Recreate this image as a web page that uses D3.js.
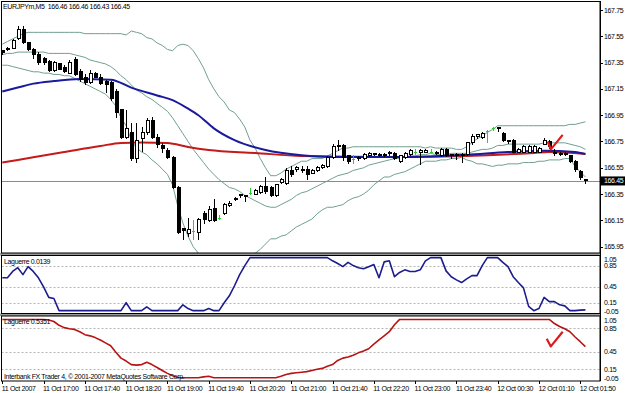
<!DOCTYPE html>
<html>
<head>
<meta charset="utf-8">
<script src="https://cdn.jsdelivr.net/npm/d3@7"></script>
<style>
body { margin: 0; background: #fff; }
svg text { font-family: 'Liberation Sans', Arial, sans-serif; font-size: 7px; letter-spacing: -0.35px; fill: #000; white-space: pre; }
</style>
</head>
<body>
<script>
'use strict';

// EURJPYm M5, 114 bars
var symbolTitle = 'EURJPYm,M5  166.46 166.46 166.43 166.45';
var lastPrice = 166.45;

var opens = [
    167.44, 167.45, 167.46, 167.53, 167.60, 167.50, 167.45, 167.41, 167.38, 167.36,
    167.29, 167.34, 167.31, 167.27, 167.37, 167.28, 167.24, 167.20, 167.27, 167.24,
    167.21, 167.20, 167.13, 166.99, 166.78, 166.82, 166.62, 166.77, 166.82, 166.91,
    166.78, 166.72, 166.68, 166.63, 166.40, 166.09, 166.05, 166.07, 166.06, 166.20,
    166.15, 166.24, 166.17, 166.20, 166.26, 166.31, 166.34, 166.33, 166.36, 166.35,
    166.36, 166.41, 166.40, 166.34, 166.44, 166.43, 166.53, 166.54, 166.53, 166.54,
    166.51, 166.53, 166.55, 166.56, 166.63, 166.71, 166.72, 166.64, 166.62, 166.62,
    166.62, 166.64, 166.65, 166.65, 166.64, 166.66, 166.66, 166.60, 166.63, 166.65,
    166.67, 166.67, 166.67, 166.67, 166.66, 166.64, 166.69, 166.64, 166.64, 166.64,
    166.65, 166.74, 166.79, 166.78, 166.83, 166.85, 166.85, 166.81, 166.76, 166.76,
    166.67, 166.67, 166.67, 166.67, 166.67, 166.73, 166.75, 166.67, 166.65, 166.65,
    166.64, 166.60, 166.52, 166.46
];
var highs = [
    167.44, 167.47, 167.53, 167.63, 167.63, 167.51, 167.46, 167.43, 167.39, 167.37,
    167.36, 167.35, 167.33, 167.37, 167.39, 167.30, 167.26, 167.29, 167.28, 167.26,
    167.22, 167.21, 167.15, 167.00, 166.99, 166.89, 166.89, 166.86, 166.93, 166.94,
    166.81, 166.74, 166.70, 166.64, 166.41, 166.09, 166.17, 166.15, 166.17, 166.22,
    166.26, 166.31, 166.19, 166.28, 166.30, 166.33, 166.35, 166.34, 166.40, 166.39,
    166.42, 166.48, 166.41, 166.43, 166.47, 166.55, 166.56, 166.56, 166.56, 166.56,
    166.54, 166.56, 166.58, 166.64, 166.73, 166.76, 166.73, 166.65, 166.65, 166.64,
    166.66, 166.67, 166.66, 166.66, 166.66, 166.68, 166.67, 166.65, 166.67, 166.69,
    166.69, 166.69, 166.69, 166.69, 166.68, 166.70, 166.70, 166.65, 166.66, 166.66,
    166.75, 166.81, 166.81, 166.82, 166.84, 166.86, 166.86, 166.82, 166.76, 166.77,
    166.70, 166.72, 166.72, 166.72, 166.71, 166.78, 166.76, 166.69, 166.67, 166.67,
    166.65, 166.61, 166.53, 166.46
];
var lows = [
    167.41, 167.44, 167.45, 167.52, 167.49, 167.44, 167.38, 167.33, 167.33, 167.28,
    167.28, 167.29, 167.27, 167.26, 167.25, 167.20, 167.18, 167.19, 167.23, 167.18,
    167.12, 167.06, 166.93, 166.77, 166.77, 166.60, 166.59, 166.67, 166.80, 166.77,
    166.70, 166.66, 166.62, 166.39, 166.05, 166.00, 166.02, 166.00, 166.00, 166.12,
    166.14, 166.14, 166.15, 166.19, 166.25, 166.30, 166.32, 166.29, 166.34, 166.34,
    166.35, 166.35, 166.33, 166.33, 166.43, 166.42, 166.48, 166.52, 166.51, 166.46,
    166.50, 166.52, 166.54, 166.55, 166.62, 166.68, 166.60, 166.58, 166.58, 166.60,
    166.61, 166.63, 166.64, 166.63, 166.63, 166.64, 166.61, 166.59, 166.62, 166.64,
    166.65, 166.57, 166.66, 166.66, 166.65, 166.63, 166.63, 166.62, 166.61, 166.59,
    166.64, 166.72, 166.77, 166.77, 166.74, 166.83, 166.82, 166.75, 166.73, 166.66,
    166.66, 166.66, 166.66, 166.66, 166.66, 166.72, 166.69, 166.64, 166.64, 166.64,
    166.59, 166.52, 166.46, 166.43
];
var closes = [
    167.43, 167.46, 167.52, 167.60, 167.50, 167.45, 167.41, 167.35, 167.35, 167.29,
    167.35, 167.30, 167.28, 167.35, 167.26, 167.22, 167.20, 167.27, 167.24, 167.19,
    167.18, 167.08, 166.97, 166.78, 166.85, 166.62, 166.76, 166.82, 166.91, 166.78,
    166.73, 166.70, 166.63, 166.40, 166.06, 166.07, 166.08, 166.07, 166.16, 166.16,
    166.23, 166.15, 166.17, 166.27, 166.28, 166.32, 166.35, 166.34, 166.36, 166.38,
    166.41, 166.37, 166.34, 166.42, 166.46, 166.53, 166.50, 166.55, 166.54, 166.50,
    166.53, 166.55, 166.57, 166.63, 166.71, 166.72, 166.63, 166.60, 166.62, 166.63,
    166.65, 166.66, 166.66, 166.64, 166.65, 166.67, 166.62, 166.64, 166.66, 166.68,
    166.67, 166.68, 166.68, 166.67, 166.67, 166.69, 166.64, 166.65, 166.65, 166.65,
    166.74, 166.79, 166.80, 166.81, 166.83, 166.85, 166.86, 166.76, 166.75, 166.67,
    166.69, 166.71, 166.71, 166.71, 166.70, 166.76, 166.71, 166.66, 166.66, 166.66,
    166.60, 166.54, 166.48, 166.45
];

// Bollinger bands (20, 2)
var bbUpper = [
    167.49, 167.51, 167.53, 167.55, 167.57, 167.58, 167.58, 167.58, 167.58, 167.58,
    167.58, 167.58, 167.58, 167.58, 167.58, 167.58, 167.57, 167.57, 167.57, 167.57,
    167.57, 167.57, 167.57, 167.57, 167.56, 167.59, 167.58, 167.57, 167.54, 167.53,
    167.50, 167.48, 167.45, 167.44, 167.48, 167.49, 167.48, 167.44, 167.38, 167.31,
    167.22, 167.15, 167.09, 167.05, 166.99, 166.97, 166.92, 166.86, 166.76, 166.70,
    166.62, 166.55, 166.49, 166.49, 166.51, 166.54, 166.56, 166.58, 166.60, 166.60,
    166.62, 166.62, 166.62, 166.64, 166.66, 166.68, 166.70, 166.70, 166.71, 166.71,
    166.71, 166.71, 166.71, 166.71, 166.71, 166.71, 166.71, 166.71, 166.71, 166.71,
    166.71, 166.71, 166.70, 166.71, 166.70, 166.70, 166.70, 166.70, 166.69, 166.69,
    166.71, 166.74, 166.77, 166.79, 166.82, 166.84, 166.87, 166.87, 166.87, 166.87,
    166.87, 166.87, 166.87, 166.87, 166.87, 166.87, 166.87, 166.87, 166.87, 166.87,
    166.88, 166.88, 166.89, 166.90
];
var bbMiddle = [
    167.41, 167.42, 167.42, 167.43, 167.43, 167.43, 167.43, 167.43, 167.43, 167.42,
    167.42, 167.42, 167.42, 167.42, 167.41, 167.40, 167.39, 167.37, 167.36, 167.35,
    167.34, 167.32, 167.29, 167.25, 167.22, 167.18, 167.14, 167.12, 167.09, 167.07,
    167.04, 167.01, 166.98, 166.93, 166.87, 166.81, 166.75, 166.69, 166.64, 166.59,
    166.54, 166.50, 166.46, 166.43, 166.40, 166.39, 166.37, 166.34, 166.32, 166.30,
    166.28, 166.26, 166.25, 166.25, 166.27, 166.29, 166.31, 166.34, 166.36, 166.37,
    166.39, 166.41, 166.43, 166.45, 166.47, 166.49, 166.50, 166.51, 166.53, 166.54,
    166.55, 166.57, 166.58, 166.59, 166.60, 166.61, 166.62, 166.62, 166.63, 166.64,
    166.64, 166.65, 166.65, 166.66, 166.65, 166.65, 166.65, 166.66, 166.66, 166.66,
    166.66, 166.67, 166.68, 166.69, 166.69, 166.70, 166.72, 166.72, 166.73, 166.73,
    166.73, 166.73, 166.73, 166.73, 166.73, 166.74, 166.74, 166.74, 166.74, 166.74,
    166.73, 166.72, 166.71, 166.69
];
var bbLower = [
    167.33, 167.33, 167.32, 167.31, 167.30, 167.29, 167.28, 167.28, 167.27, 167.27,
    167.26, 167.26, 167.25, 167.25, 167.23, 167.21, 167.19, 167.17, 167.15, 167.13,
    167.11, 167.07, 167.02, 166.93, 166.87, 166.76, 166.70, 166.67, 166.65, 166.61,
    166.58, 166.54, 166.50, 166.42, 166.26, 166.13, 166.03, 165.95, 165.90, 165.87,
    165.86, 165.84, 165.82, 165.81, 165.81, 165.80, 165.81, 165.83, 165.87, 165.90,
    165.93, 165.97, 166.01, 166.01, 166.03, 166.04, 166.07, 166.10, 166.12, 166.14,
    166.16, 166.20, 166.23, 166.25, 166.25, 166.26, 166.27, 166.30, 166.32, 166.33,
    166.35, 166.38, 166.42, 166.45, 166.48, 166.48, 166.50, 166.51, 166.52, 166.54,
    166.56, 166.58, 166.60, 166.60, 166.60, 166.61, 166.61, 166.62, 166.62, 166.63,
    166.61, 166.60, 166.58, 166.58, 166.57, 166.56, 166.57, 166.57, 166.58, 166.58,
    166.58, 166.59, 166.59, 166.59, 166.60, 166.60, 166.61, 166.61, 166.61, 166.62,
    166.62, 166.56, 166.52, 166.48
];

// moving averages, [bar, price]
var maBlue = [[0, 167.13], [3, 167.16], [6, 167.19], [10, 167.21], [15, 167.225], [21, 167.22],
    [25, 167.16], [30, 167.10], [33, 167.065], [36, 167.00], [38, 166.95], [41, 166.85],
    [45, 166.76], [51, 166.685], [58, 166.645], [64, 166.632], [78, 166.632], [90, 166.65],
    [98, 166.67], [105, 166.68], [111, 166.67], [113, 166.655]];
var maRed = [[0, 166.59], [6, 166.63], [12, 166.67], [19, 166.716], [23, 166.739], [27, 166.742],
    [32, 166.739], [36, 166.708], [40, 166.685], [49, 166.663], [58, 166.64], [77, 166.632],
    [90, 166.64], [103, 166.663], [106, 166.67], [113, 166.655]];

// Laguerre RSI, one value per bar
var laguerreFast = [
    0.62, 0.62, 0.74, 0.81, 0.68, 0.83, 0.74, 0.62, 0.45, 0.25,
    0.23, 0, 0, 0, 0, 0, 0, 0, 0, 0,
    0, 0, 0, 0, 0.15, 0, 0, 0, 0.07, 0,
    0, 0, 0, 0, 0, 0.11, 0.04, 0, 0, 0,
    0.04, 0, 0, 0.15, 0.28, 0.47, 0.68, 0.85, 1, 1,
    1, 1, 1, 1, 1, 1, 1, 1, 1, 1,
    1, 1, 1, 1, 0.94, 0.89, 0.83, 0.91, 0.85, 0.81,
    0.79, 0.83, 0.87, 0.62, 0.92, 0.94, 0.64, 0.72, 0.77, 0.74,
    0.74, 0.77, 0.94, 1, 1, 1, 0.75, 0.64, 0.58, 0.53,
    0.60, 0.66, 0.66, 0.85, 1, 1, 1, 0.91, 0.83, 0.64,
    0.53, 0.43, 0.08, 0, 0.04, 0.25, 0.17, 0.17, 0.11, 0.09,
    0, 0, 0.01, 0.0139
];
var laguerreSlow = [
    1, 1, 1, 1, 1, 1, 1, 1, 1, 0.99,
    0.965, 0.90, 0.86, 0.84, 0.83, 0.79, 0.74, 0.72, 0.69, 0.65,
    0.60, 0.55, 0.44, 0.34, 0.29, 0.23, 0.22, 0.23, 0.27, 0.23,
    0.18, 0.13, 0.08, 0.04, 0.01, 0.005, 0.005, 0.005, 0.005, 0.02,
    0.03, 0.005, 0.005, 0.005, 0.005, 0.005, 0.005, 0.005, 0.005, 0.005,
    0.005, 0.005, 0.005, 0.005, 0.03, 0.06, 0.08, 0.09, 0.10, 0.11,
    0.13, 0.15, 0.165, 0.20, 0.23, 0.30, 0.34, 0.36, 0.39, 0.43,
    0.46, 0.50, 0.58, 0.65, 0.72, 0.79, 0.91, 1, 1, 1,
    1, 1, 1, 1, 1, 1, 1, 1, 1, 1,
    1, 1, 1, 1, 1, 1, 1, 1, 1, 1,
    1, 1, 1, 1, 1, 1, 1, 0.93, 0.88, 0.84,
    0.79, 0.70, 0.62, 0.5351
];

var priceTicks = [167.75, 167.55, 167.35, 167.15, 166.95, 166.75, 166.55, 166.35, 166.15, 165.95];
var levelTicks = [1.05, 0.85, 0.45, 0.15, -0.05];
var levelLines = [0.85, 0.45, 0.15];
var timeLabels = ['11 Oct 2007', '11 Oct 17:00', '11 Oct 17:40', '11 Oct 18:20', '11 Oct 19:00',
    '11 Oct 19:40', '11 Oct 20:20', '11 Oct 21:00', '11 Oct 21:40', '11 Oct 22:20',
    '11 Oct 23:00', '11 Oct 23:40', '12 Oct 00:30', '12 Oct 01:10', '12 Oct 01:50'];
var barsPerLabel = 8;

// hand drawn ticks, [bar, value]
var checkMain = [[105.7, 166.75], [106.3, 166.69], [108.6, 166.80]];
var checkSlow = [[105.5, 0.67], [106.3, 0.54], [108.6, 0.79]];

var width = 625;
var height = 393;
var axisX = 600;
var panes = {
    main: { top: 1.5, bottom: 253 },
    fast: { top: 255.5, bottom: 313.5 },
    slow: { top: 316, bottom: 381 }
};

var svg = d3.select('body').append('svg')
    .attr('width', width)
    .attr('height', height);

svg.append('rect').attr('width', width).attr('height', height).attr('fill', '#fff');

var x = d3.scaleLinear().domain([0, closes.length - 1]).range([2.3, 585.4]);
var y = d3.scaleLinear().domain([165.95, 167.75]).range([246.7, 10]);
var yFast = d3.scaleLinear().domain([-0.05, 1.05]).range([313.3, 255]);
var ySlow = d3.scaleLinear().domain([-0.05, 1.05]).range([381, 316.5]);

var defs = svg.append('defs');
Object.keys(panes).forEach(function (k) {
    defs.append('clipPath').attr('id', 'clip-' + k)
        .append('rect')
        .attr('x', 1.5).attr('y', panes[k].top)
        .attr('width', axisX - 1.5).attr('height', panes[k].bottom - panes[k].top);
});

// pane separators
svg.append('rect').attr('x', 0).attr('y', panes.main.bottom).attr('width', axisX + 1)
    .attr('height', panes.fast.top - panes.main.bottom).attr('fill', '#9a9a9a');
svg.append('rect').attr('x', 0).attr('y', panes.fast.bottom).attr('width', axisX + 1)
    .attr('height', panes.slow.top - panes.fast.bottom).attr('fill', '#9a9a9a');

var main = svg.append('g').attr('clip-path', 'url(#clip-main)');

// bid line
main.append('line')
    .attr('x1', 1.5).attr('x2', axisX)
    .attr('y1', Math.round(y(lastPrice)) + 0.5).attr('y2', Math.round(y(lastPrice)) + 0.5)
    .attr('stroke', '#8c8c8c');

var band = d3.line()
    .x(function (d, i) { return x(i); })
    .y(function (d) { return y(d); });

[bbUpper, bbMiddle, bbLower].forEach(function (s) {
    main.append('path')
        .attr('d', band(s))
        .attr('fill', 'none')
        .attr('stroke', '#6f9f92')
        .attr('stroke-width', 1);
});

var maLine = d3.line()
    .curve(d3.curveMonotoneX)
    .x(function (d) { return x(d[0]); })
    .y(function (d) { return y(d[1]); });

main.append('path').attr('d', maLine(maRed))
    .attr('fill', 'none').attr('stroke', '#c41a1a').attr('stroke-width', 2);
main.append('path').attr('d', maLine(maBlue))
    .attr('fill', 'none').attr('stroke', '#1a1a9c').attr('stroke-width', 2);

// candles
var bars = d3.range(closes.length).map(function (i) {
    return { i: i, o: opens[i], h: highs[i], l: lows[i], c: closes[i] };
});

var candle = main.selectAll('.candle')
    .data(bars)
    .enter().append('g')
    .attr('class', 'candle')
    .attr('shape-rendering', 'crispEdges');

candle.append('line')
    .attr('x1', function (d) { return Math.round(x(d.i)) + 0.5; })
    .attr('x2', function (d) { return Math.round(x(d.i)) + 0.5; })
    .attr('y1', function (d) { return y(d.h); })
    .attr('y2', function (d) { return y(d.l); })
    .attr('stroke', function (d) { return d.o === d.c ? '#2ecc2e' : '#000'; });

candle.filter(function (d) { return d.o !== d.c; })
    .append('rect')
    .attr('x', function (d) { return Math.round(x(d.i)) - 1; })
    .attr('width', 3)
    .attr('y', function (d) { return y(Math.max(d.o, d.c)); })
    .attr('height', function (d) { return Math.max(1, Math.abs(y(d.o) - y(d.c))); })
    .attr('fill', function (d) { return d.c > d.o ? '#fff' : '#000'; })
    .attr('stroke', '#000');

candle.filter(function (d) { return d.o === d.c; })
    .append('line')
    .attr('x1', function (d) { return Math.round(x(d.i)) - 1; })
    .attr('x2', function (d) { return Math.round(x(d.i)) + 2; })
    .attr('y1', function (d) { return Math.round(y(d.c)) + 0.5; })
    .attr('y2', function (d) { return Math.round(y(d.c)) + 0.5; })
    .attr('stroke', '#2ecc2e');

var check = d3.line()
    .x(function (d) { return x(d[0]); })
    .y(function (d) { return y(d[1]); });
main.append('path').attr('d', check(checkMain))
    .attr('fill', 'none').attr('stroke', '#e01818').attr('stroke-width', 2.2)
    .attr('stroke-linejoin', 'round');

svg.append('text').attr('x', 3).attr('y', 9).text(symbolTitle);

// indicator panes
function drawPane(key, scale, values, colour, label, mark) {
    var g = svg.append('g').attr('clip-path', 'url(#clip-' + key + ')');
    g.selectAll('.level')
        .data(levelLines)
        .enter().append('line')
        .attr('x1', 1.5).attr('x2', axisX)
        .attr('y1', function (d) { return Math.round(scale(d)) + 0.5; })
        .attr('y2', function (d) { return Math.round(scale(d)) + 0.5; })
        .attr('stroke', '#b4b4b4')
        .attr('stroke-dasharray', '2,2');

    var line = d3.line()
        .x(function (d, i) { return x(i); })
        .y(function (d) { return scale(d); });
    g.append('path').attr('d', line(values))
        .attr('fill', 'none').attr('stroke', colour).attr('stroke-width', 1.6)
        .attr('stroke-linejoin', 'round');

    if (mark) {
        var m = d3.line()
            .x(function (d) { return x(d[0]); })
            .y(function (d) { return scale(d[1]); });
        g.append('path').attr('d', m(mark))
            .attr('fill', 'none').attr('stroke', '#e01818').attr('stroke-width', 2.2)
            .attr('stroke-linejoin', 'round');
    }

    var t = svg.append('text').attr('x', 4).attr('y', panes[key].top + 8).text(label);
    var bb = t.node().getBBox();
    svg.insert('rect', 'text')
        .attr('x', bb.x - 1).attr('y', bb.y).attr('width', bb.width + 2).attr('height', bb.height)
        .attr('fill', '#fff');

    svg.selectAll('.lv-' + key)
        .data(levelTicks)
        .enter().append('text')
        .attr('class', 'lv-' + key)
        .attr('x', axisX + 4)
        .attr('y', function (d) {
            var p = scale(d);
            p = Math.max(panes[key].top + 4, Math.min(panes[key].bottom - 2.5, p));
            return p + 2.5;
        })
        .text(function (d) { return d.toFixed(2); });

    svg.append('rect')
        .attr('x', 1.5).attr('y', panes[key].top)
        .attr('width', axisX - 1.5).attr('height', panes[key].bottom - panes[key].top)
        .attr('fill', 'none').attr('stroke', '#000');
}

drawPane('fast', yFast, laguerreFast, '#1c1c8e', 'Laguerre ' + laguerreFast[laguerreFast.length - 1].toFixed(4));
drawPane('slow', ySlow, laguerreSlow, '#b81414', 'Laguerre ' + laguerreSlow[laguerreSlow.length - 1].toFixed(4), checkSlow);

svg.append('text').attr('x', 4).attr('y', panes.slow.bottom - 2.5)
    .text('Interbank FX Trader 4, \u00a9 2001-2007 MetaQuotes Software Corp.');

// main pane frame
svg.append('rect')
    .attr('x', 1.5).attr('y', panes.main.top)
    .attr('width', axisX - 1.5).attr('height', panes.main.bottom - panes.main.top)
    .attr('fill', 'none').attr('stroke', '#000');

// price axis
svg.append('line').attr('x1', axisX + 0.5).attr('x2', axisX + 0.5)
    .attr('y1', 1).attr('y2', panes.slow.bottom).attr('stroke', '#000');

svg.selectAll('.ptick')
    .data(priceTicks)
    .enter().append('line')
    .attr('class', 'ptick')
    .attr('x1', axisX).attr('x2', axisX + 3)
    .attr('y1', function (d) { return Math.round(y(d)) + 0.5; })
    .attr('y2', function (d) { return Math.round(y(d)) + 0.5; })
    .attr('stroke', '#000');

svg.selectAll('.plabel')
    .data(priceTicks)
    .enter().append('text')
    .attr('class', 'plabel')
    .attr('x', axisX + 4)
    .attr('y', function (d) { return y(d) + 2.5; })
    .text(function (d) { return d.toFixed(2); });

svg.append('rect')
    .attr('x', axisX + 1).attr('y', y(lastPrice) - 4.5)
    .attr('width', width - axisX - 1).attr('height', 9)
    .attr('fill', '#000');
svg.append('text')
    .attr('x', axisX + 4).attr('y', y(lastPrice) + 2.5)
    .style('fill', '#fff')
    .text(lastPrice.toFixed(2));

// time axis
var timeAt = timeLabels.map(function (t, k) { return { i: k * barsPerLabel, t: t }; });

svg.selectAll('.ttick')
    .data(timeAt)
    .enter().append('line')
    .attr('class', 'ttick')
    .attr('x1', function (d) { return Math.round(x(d.i)) + 0.5; })
    .attr('x2', function (d) { return Math.round(x(d.i)) + 0.5; })
    .attr('y1', panes.slow.bottom).attr('y2', panes.slow.bottom + 3)
    .attr('stroke', '#000');

svg.selectAll('.tlabel')
    .data(timeAt)
    .enter().append('text')
    .attr('class', 'tlabel')
    .attr('x', function (d) { return x(d.i) - 0.5; })
    .attr('y', 390.5)
    .text(function (d) { return d.t; });
</script>
</body>
</html>
